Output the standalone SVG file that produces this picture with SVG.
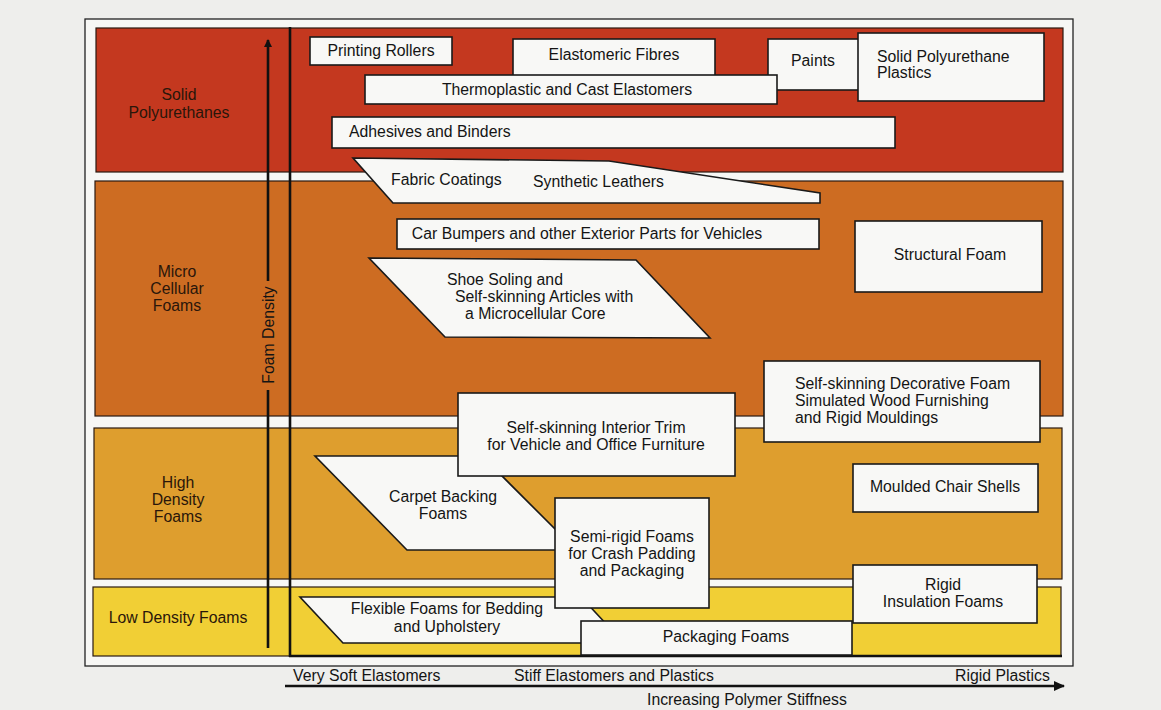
<svg xmlns="http://www.w3.org/2000/svg" width="1161" height="710" viewBox="0 0 1161 710">
<defs>
<style>
.band{stroke:#2a1a12;stroke-width:1.2}
.box{fill:#f8f8f6;stroke:#1a1a1a;stroke-width:1.6}
.t{font-family:"Liberation Sans",Arial,sans-serif;font-size:15.8px;fill:#141414}
.c{text-anchor:middle}
.cat{font-family:"Liberation Sans",Arial,sans-serif;font-size:15.8px;fill:#2a160a;text-anchor:middle}
.ax{stroke:#111;stroke-width:2.6;fill:none}
</style>
<marker id="ah" markerWidth="10" markerHeight="10" refX="7" refY="4" orient="auto" markerUnits="userSpaceOnUse">
<path d="M0,0 L8,4 L0,8 Z" fill="#111"/>
</marker>
<marker id="ah2" markerWidth="14" markerHeight="12" refX="10" refY="5" orient="auto" markerUnits="userSpaceOnUse">
<path d="M0,0 L11,5 L0,10 Z" fill="#111"/>
</marker>
</defs>
<rect width="1161" height="710" fill="#eeeeec"/>
<rect x="85" y="19" width="988" height="647" fill="#f7f7f5" stroke="#222" stroke-width="1.3"/>

<g id="bands">
<rect id="band-solid" class="band" x="96" y="28" width="967" height="144" fill="#c4381f"/>
<rect id="band-micro" class="band" x="95" y="181" width="968" height="235" fill="#cd6c22"/>
<rect id="band-high" class="band" x="94" y="428" width="968" height="151" fill="#de9e2e"/>
<rect id="band-low" class="band" x="93" y="587" width="968" height="69" fill="#f1cf35"/>
</g>

<g id="category-labels">
<text class="cat" x="179" y="100">Solid</text>
<text class="cat" x="179" y="118">Polyurethanes</text>
<text class="cat" x="177" y="277">Micro</text>
<text class="cat" x="177" y="294">Cellular</text>
<text class="cat" x="177" y="311">Foams</text>
<text class="cat" x="178" y="488">High</text>
<text class="cat" x="178" y="505">Density</text>
<text class="cat" x="178" y="522">Foams</text>
<text class="cat" x="178" y="623">Low Density Foams</text>
</g>

<g id="connectors">
<line class="ax" x1="268" y1="648" x2="268" y2="390" stroke-width="2.4"/>
<line class="ax" x1="268" y1="281" x2="268" y2="40" stroke-width="2.4" marker-end="url(#ah)"/>
<line class="ax" x1="290" y1="27" x2="290" y2="657"/>
<line class="ax" x1="289" y1="656" x2="1062" y2="656"/>
<line class="ax" x1="285" y1="686" x2="1064" y2="686" marker-end="url(#ah2)"/>
</g>

<g id="axis-labels">
<text class="t c" transform="translate(273.5,335) rotate(-90)">Foam Density</text>
<text class="t" x="293" y="681">Very Soft Elastomers</text>
<text class="t" x="514" y="681">Stiff Elastomers and Plastics</text>
<text class="t" x="955" y="681">Rigid Plastics</text>
<text class="t" x="647" y="705">Increasing Polymer Stiffness</text>
</g>

<g id="printing-rollers"><rect class="box" x="310" y="37" width="142" height="28"/><text class="t c" x="381" y="56">Printing Rollers</text></g>
<g id="elastomeric-fibres"><rect class="box" x="513" y="39" width="202" height="37"/><text class="t c" x="614" y="60">Elastomeric Fibres</text></g>
<g id="paints"><rect class="box" x="768" y="39" width="95" height="51"/><text class="t c" x="813" y="66">Paints</text></g>
<g id="thermoplastic"><rect class="box" x="365" y="75" width="412" height="29"/><text class="t c" x="567" y="95">Thermoplastic and Cast Elastomers</text></g>
<g id="solid-pu-plastics"><rect class="box" x="858" y="33" width="186" height="68"/><text class="t" x="877" y="62">Solid Polyurethane</text><text class="t" x="877" y="78">Plastics</text></g>
<g id="adhesives"><rect class="box" x="332" y="117" width="563" height="31"/><text class="t" x="349" y="137">Adhesives and Binders</text></g>
<g id="fabric-coatings"><polygon class="box" points="353,158 609,161 820,193 820,203 393,203"/><text class="t" x="391" y="185">Fabric Coatings</text><text class="t" x="533" y="187">Synthetic Leathers</text></g>

<g id="car-bumpers"><rect class="box" x="397" y="219" width="422" height="30"/><text class="t c" x="587" y="239">Car Bumpers and other Exterior Parts for Vehicles</text></g>
<g id="shoe-soling"><polygon class="box" points="369,258 636,260 710,338 445,337"/><text class="t" x="447" y="285">Shoe Soling and</text><text class="t" x="455" y="302">Self-skinning Articles with</text><text class="t" x="465" y="319">a Microcellular Core</text></g>
<g id="structural-foam"><rect class="box" x="855" y="221" width="187" height="71"/><text class="t c" x="950" y="260">Structural Foam</text></g>
<g id="decorative-foam"><rect class="box" x="764" y="361" width="276" height="81"/><text class="t" x="795" y="389">Self-skinning Decorative Foam</text><text class="t" x="795" y="406">Simulated Wood Furnishing</text><text class="t" x="795" y="423">and Rigid Mouldings</text></g>

<g id="carpet-backing"><polygon class="box" points="315,456 482,456 576,550 407,550"/><text class="t c" x="443" y="502">Carpet Backing</text><text class="t c" x="443" y="519">Foams</text></g>
<g id="interior-trim"><rect class="box" x="458" y="393" width="277" height="83"/><text class="t c" x="596" y="433">Self-skinning Interior Trim</text><text class="t c" x="596" y="450">for Vehicle and Office Furniture</text></g>
<g id="flexible-foams"><polygon class="box" points="300,597 581,597 624,643 343,643"/><text class="t c" x="447" y="614">Flexible Foams for Bedding</text><text class="t c" x="447" y="632">and Upholstery</text></g>
<g id="semi-rigid"><rect class="box" x="555" y="498" width="154" height="110"/><text class="t c" x="632" y="542">Semi-rigid Foams</text><text class="t c" x="632" y="559">for Crash Padding</text><text class="t c" x="632" y="576">and Packaging</text></g>
<g id="packaging-foams"><rect class="box" x="581" y="621" width="271" height="34"/><text class="t c" x="726" y="642">Packaging Foams</text></g>
<g id="moulded-chair"><rect class="box" x="853" y="464" width="185" height="48"/><text class="t c" x="945" y="492">Moulded Chair Shells</text></g>
<g id="rigid-insulation"><rect class="box" x="853" y="565" width="184" height="58"/><text class="t c" x="943" y="590">Rigid</text><text class="t c" x="943" y="607">Insulation Foams</text></g>
</svg>
